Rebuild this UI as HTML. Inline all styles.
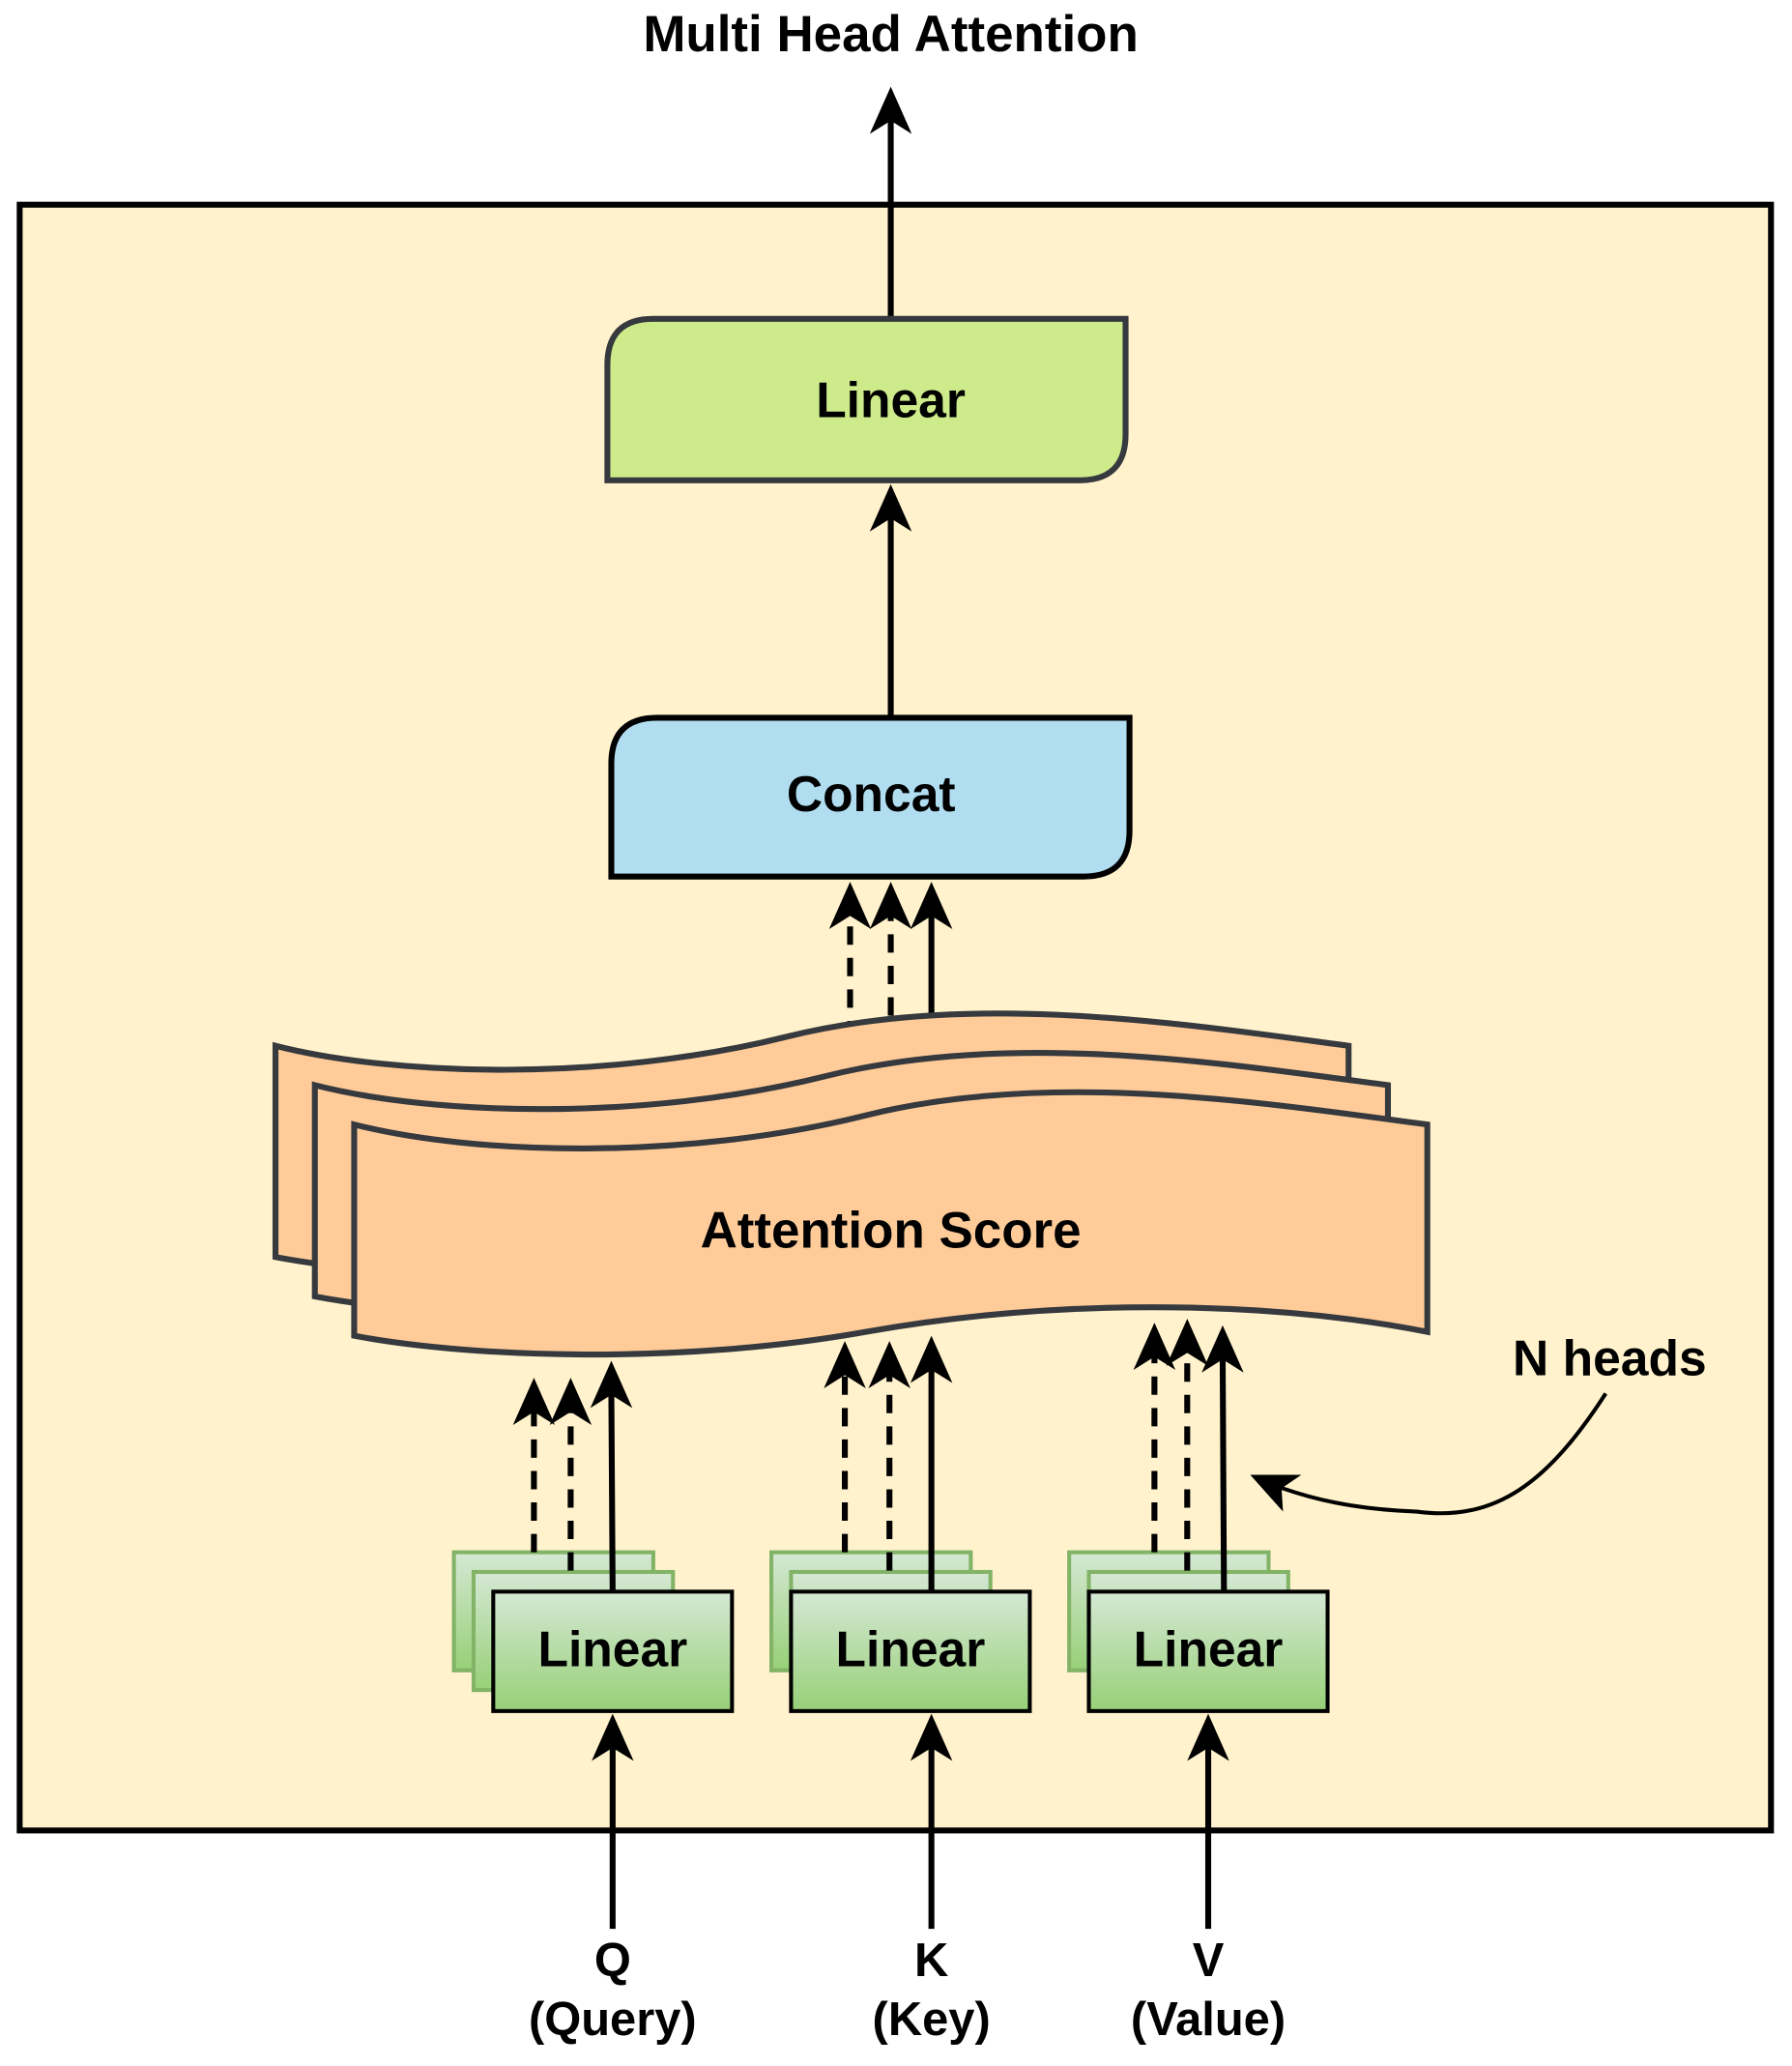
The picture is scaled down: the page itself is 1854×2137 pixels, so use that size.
<!DOCTYPE html>
<html><head><meta charset="utf-8"><style>
html,body{margin:0;padding:0;background:#fff;}
svg{display:block;}
text{font-family:"Liberation Sans",Arial,sans-serif;font-weight:bold;fill:#000;}
</style></head><body>
<svg width="1854" height="2137" viewBox="0 0 1366 1574.5" xmlns="http://www.w3.org/2000/svg">
<defs>
<path id="h" d="M0,0 L-16,36 L0,26 L16,36 Z" fill="#000"/>
<linearGradient id="g" x1="0" y1="0" x2="0" y2="1">
<stop offset="0" stop-color="#d5e8d4"/><stop offset="1" stop-color="#97d077"/>
</linearGradient>
<path id="doc" d="M270,857 C360,880 520,885 660,850 C800,815 960,840 1088,857 L1088,1015 C960,990 800,990 660,1015 C520,1040 360,1035 270,1018 Z"/>
</defs>

<text x="679" y="39" font-size="39" text-anchor="middle">Multi Head Attention</text>

<rect x="15" y="156" width="1335" height="1239" fill="#fff2cc" stroke="#000" stroke-width="4.5"/>

<line x1="679" y1="243" x2="679" y2="90" stroke="#000" stroke-width="4.5"/>
<use href="#h" x="679" y="66"/>

<path d="M498,243 L858,243 L858,331 Q858,366 823,366 L463,366 L463,278 Q463,243 498,243 Z" fill="#cdeb8b" stroke="#36393d" stroke-width="4.5"/>
<text x="679" y="318" font-size="38" text-anchor="middle">Linear</text>

<line x1="679" y1="547" x2="679" y2="393" stroke="#000" stroke-width="4.5"/>
<use href="#h" x="679" y="369"/>

<path d="M501,547 L861,547 L861,633 Q861,668 826,668 L466,668 L466,582 Q466,547 501,547 Z" fill="#b1ddf0" stroke="#000" stroke-width="4.5"/>
<text x="664" y="618" font-size="38" text-anchor="middle">Concat</text>

<g stroke="#000" stroke-width="4.5">
<line x1="648" y1="792" x2="648" y2="696" stroke-dasharray="14 10"/>
<line x1="679" y1="822" x2="679" y2="696" stroke-dasharray="14 10"/>
<line x1="710" y1="852" x2="710" y2="696"/>
</g>
<use href="#h" x="648" y="672"/><use href="#h" x="679" y="672"/><use href="#h" x="710" y="672"/>

<use href="#doc" transform="translate(-60,-60)" fill="#ffcc99" stroke="#36393d" stroke-width="4.5"/>
<use href="#doc" transform="translate(-30,-30)" fill="#ffcc99" stroke="#36393d" stroke-width="4.5"/>
<use href="#doc" fill="#ffcc99" stroke="#36393d" stroke-width="4.5"/>
<text x="679" y="951" font-size="39" text-anchor="middle">Attention Score</text>

<g stroke="#82b366" stroke-width="3" fill="url(#g)">
<rect x="346" y="1183" width="152" height="90"/><rect x="361" y="1198" width="152" height="90"/>
<rect x="588" y="1183" width="152" height="90"/><rect x="603" y="1198" width="152" height="90"/>
<rect x="815" y="1183" width="152" height="90"/><rect x="830" y="1198" width="152" height="90"/>
</g>
<g stroke="#000" stroke-width="3" fill="url(#g)">
<rect x="376" y="1213" width="182" height="91"/>
<rect x="603" y="1213" width="182" height="91"/>
<rect x="830" y="1213" width="182" height="91"/>
</g>
<text x="467" y="1270" font-size="38" text-anchor="middle">Linear</text>
<text x="694" y="1270" font-size="38" text-anchor="middle">Linear</text>
<text x="921" y="1270" font-size="38" text-anchor="middle">Linear</text>

<g stroke="#000" stroke-width="4.5">
<line x1="407" y1="1183" x2="407" y2="1074" stroke-dasharray="14 10"/>
<line x1="435" y1="1197" x2="435" y2="1074" stroke-dasharray="14 10"/>
<line x1="467" y1="1213" x2="466" y2="1061"/>
<line x1="644" y1="1183" x2="644" y2="1046" stroke-dasharray="14 10"/>
<line x1="678" y1="1197" x2="678" y2="1046" stroke-dasharray="14 10"/>
<line x1="710" y1="1213" x2="710" y2="1042"/>
<line x1="880" y1="1183" x2="880" y2="1032" stroke-dasharray="14 10"/>
<line x1="905" y1="1197" x2="905" y2="1029" stroke-dasharray="14 10"/>
<line x1="933" y1="1213" x2="932" y2="1034"/>
</g>
<use href="#h" x="407" y="1050"/><use href="#h" x="435" y="1050"/><use href="#h" x="466" y="1037"/>
<use href="#h" x="644" y="1022"/><use href="#h" x="678" y="1022"/><use href="#h" x="710" y="1018"/>
<use href="#h" x="880" y="1008"/><use href="#h" x="905" y="1005"/><use href="#h" x="932" y="1010"/>

<g stroke="#000" stroke-width="4.5">
<line x1="467" y1="1470" x2="467" y2="1330"/>
<line x1="710" y1="1470" x2="710" y2="1330"/>
<line x1="921" y1="1470" x2="921" y2="1330"/>
</g>
<use href="#h" x="467" y="1306"/><use href="#h" x="710" y="1306"/><use href="#h" x="921" y="1306"/>

<text x="467" y="1506" font-size="36" text-anchor="middle">Q</text>
<text x="467" y="1551" font-size="36" text-anchor="middle">(Query)</text>
<text x="710" y="1506" font-size="36" text-anchor="middle">K</text>
<text x="710" y="1551" font-size="36" text-anchor="middle">(Key)</text>
<text x="921" y="1506" font-size="36" text-anchor="middle">V</text>
<text x="921" y="1551" font-size="36" text-anchor="middle">(Value)</text>

<text x="1227" y="1048" font-size="38" text-anchor="middle">N heads</text>
<path d="M1224,1062 C1180,1130 1140,1160 1080,1152 C1030,1150 1000,1142 977,1134" fill="none" stroke="#000" stroke-width="3"/>
<path d="M953,1124 L992,1124 L976.9,1134.3 L978,1152 Z" fill="#000"/>
</svg>
</body></html>
